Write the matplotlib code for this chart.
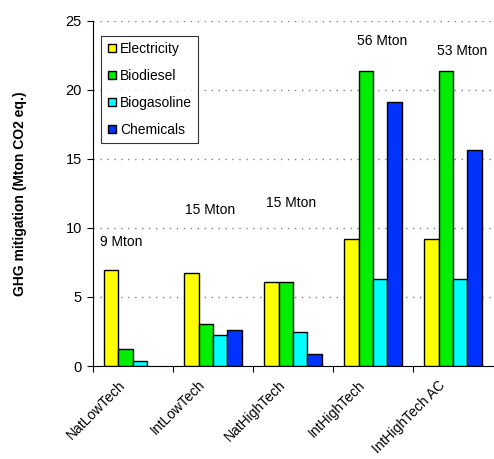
import matplotlib
matplotlib.use("Agg")
import matplotlib.pyplot as plt
import numpy as np
from matplotlib.lines import Line2D
from matplotlib.transforms import ScaledTranslation

plt.rcParams['font.family'] = ['Liberation Sans', 'DejaVu Sans']

categories = ["NatLowTech", "IntLowTech", "NatHighTech", "IntHighTech", "IntHighTech AC"]
series = ["Electricity", "Biodiesel", "Biogasoline", "Chemicals"]
electricity = [6.95, 6.75, 6.05, 9.17, 9.17]
biodiesel = [1.25, 3.06, 6.05, 21.32, 21.32]
biogasoline = [0.34, 2.27, 2.46, 6.32, 6.32]
chemicals = [0.0, 2.6, 0.85, 19.08, 15.6]
totals = ["9 Mton", "15 Mton", "15 Mton", "56 Mton", "53 Mton"]
colors = ["#FFFF00", "#00EE00", "#00FFFF", "#0033FF"]

fig = plt.figure(figsize=(4.94, 4.59), dpi=100)
ax = fig.add_axes([0.188, 0.2026, 0.81, 0.7527])

x = np.arange(len(categories))
w = 0.18
data = [electricity, biodiesel, biogasoline, chemicals]
for i, (vals, c) in enumerate(zip(data, colors)):
    v = np.array(vals)
    mask = v > 0
    ax.bar(x[mask] + (i - 1.5) * w, v[mask], width=w, color=c, edgecolor='black', linewidth=1.0, zorder=3)

ax.set_xlim(-0.5, len(categories) - 0.5)
ax.set_ylim(0, 25)
ax.set_yticks([0, 5, 10, 15, 20, 25])
ax.tick_params(axis='y', labelsize=10.5, length=4, direction='out', pad=4)
ax.yaxis.grid(True, linestyle=(0, (1, 4)), color='#808080', linewidth=1.0, zorder=0)
ax.set_xticks(x - 0.5, minor=False)
ax.set_xticklabels([])
ax.set_xticks(x, minor=True)
ax.set_xticklabels(categories, minor=True, rotation=45, ha='right', va='center',
                   rotation_mode='anchor', fontsize=10)
ax.tick_params(axis='x', which='minor', length=0, pad=12)
ax.tick_params(axis='x', which='major', length=4, direction='out')
off = ScaledTranslation(-10 / 100, 0, fig.dpi_scale_trans)
for lab in ax.get_xticklabels(minor=True):
    lab.set_transform(lab.get_transform() + off)
for s in ['top', 'right']:
    ax.spines[s].set_visible(False)
ax.spines['left'].set_color('black')
ax.spines['bottom'].set_color('black')

ax.set_ylabel("GHG mitigation (Mton CO2 eq.)", fontsize=10, fontweight='bold')
ax.yaxis.set_label_coords((27 - 93) / 401, 0.5)

# total annotations (positions in data coords)
ann_pos = [(-0.41, 8.97), (0.647, 11.29), (1.666, 11.8), (2.80, 23.5), (3.80, 22.8)]
for t, (px, py) in zip(totals, ann_pos):
    ax.text(px, py, t, fontsize=10, ha='left', va='center')

handles = [Line2D([0], [0], marker='s', linestyle='none', markerfacecolor=c,
                  markeredgecolor='black', markersize=6) for c in colors]
leg = ax.legend(handles, series, loc='upper left', bbox_to_anchor=(0.02, 0.955), fontsize=10,
                frameon=True, fancybox=False, edgecolor='black', labelspacing=0.95,
                handletextpad=0.2, handlelength=0.8, borderpad=0.4, borderaxespad=0)
leg.get_frame().set_linewidth(0.8)

fig.savefig("out.png", dpi=100)
